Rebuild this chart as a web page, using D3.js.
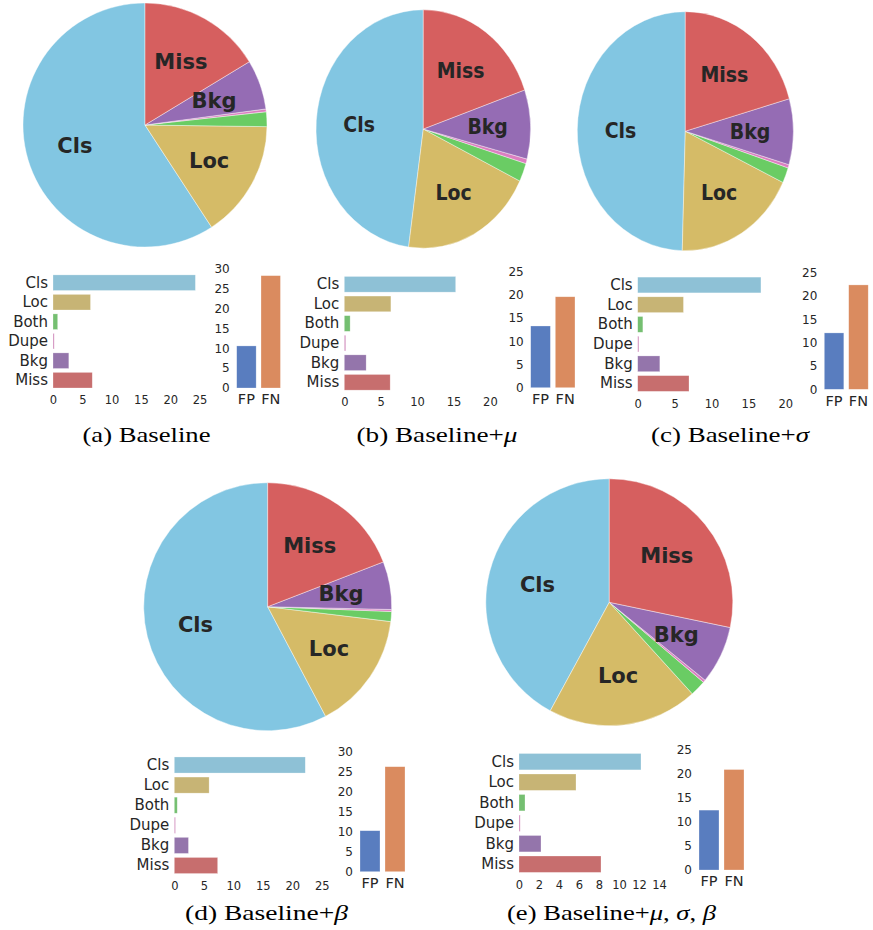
<!DOCTYPE html>
<html lang="en">
<head>
<meta charset="UTF-8">
<title>Error breakdown</title>
<script src="https://d3js.org/d3.v7.min.js"></script>
<style>
    body { margin: 0; background: #fff; }
    .tick text { fill: #262626; font-family: "DejaVu Sans", sans-serif; }
    .pielabel { fill: #262626; font-family: "DejaVu Sans", sans-serif; font-weight: bold; }
    .caption { font-family: "Liberation Serif", serif; fill: #000; }
</style>
</head>
<body>
<svg id="chart" width="873" height="930"></svg>
<script>
// error types, in the order the wedges and bars are drawn
var categories = ["Cls", "Loc", "Both", "Dupe", "Bkg", "Miss"];
var pieLabels  = ["Cls", "Loc", "", "", "Bkg", "Miss"];
var fpfnLabels = ["FP", "FN"];

// error breakdown per model
var errBaseline = [24.3, 6.4, 0.8, 0.15, 2.7, 6.7];
var errMu       = [15.3, 6.4, 0.8, 0.2, 3.0, 6.3];
var errSigma    = [16.7, 6.2, 0.7, 0.15, 3.0, 6.95];
var errBeta     = [22.2, 5.9, 0.5, 0.1, 2.4, 7.35];
var errAll      = [12.2, 5.7, 0.6, 0.1, 2.2, 8.2];

// FP / FN totals
var fpfnBaseline = [10.6, 28.3];
var fpfnMu       = [13.3, 19.6];
var fpfnSigma    = [12.1, 22.4];
var fpfnBeta     = [10.25, 26.25];
var fpfnAll      = [12.4, 20.8];

// tick labels
var xTicks25 = [0, 5, 10, 15, 20, 25];
var xTicks20 = [0, 5, 10, 15, 20];
var xTicks14 = [0, 2, 4, 6, 8, 10, 12, 14];
var yTicks30 = [0, 5, 10, 15, 20, 25, 30];
var yTicks25 = [0, 5, 10, 15, 20, 25];

// seaborn "muted" colours
var catColors  = ["#82c6e2", "#d5bb67", "#6acc64", "#dc7ec0", "#956cb4", "#d65f5f"];
var fpfnColors = ["#4878d0", "#ee854a"];

// barplot draws with saturation 0.75
function desat(c) {
    var h = d3.hsl(c);
    h.s = h.s * 0.75;
    return h.formatHex();
}

var svg = d3.select("#chart");

var panels = [
    { err: errBaseline, fpfn: fpfnBaseline, xt: xTicks25, yt: yTicks30,
      pie: {cx: 145, cy: 125, r: 122, sx: 1},
      hb: {x0: 53, k: 5.86, y0: 282.7, step: 19.5},
      fb: {x: 236.7, step: 24.3, y0: 388, k: 3.97},
      cap: {x: 146.5, y: 442, w: 128, parts: [["(a) Baseline", false]]} },
    { err: errMu, fpfn: fpfnMu, xt: xTicks20, yt: yTicks25,
      pie: {cx: 423.3, cy: 129, r: 119.2, sx: 0.9},
      hb: {x0: 344.3, k: 7.28, y0: 284.3, step: 19.6},
      fb: {x: 530.7, step: 24.6, y0: 387.7, k: 4.64},
      cap: {x: 437, y: 442, w: 161, parts: [["(b) Baseline+", false], ["\u03bc", true]]} },
    { err: errSigma, fpfn: fpfnSigma, xt: xTicks20, yt: yTicks25,
      pie: {cx: 685.3, cy: 131.2, r: 119.5, sx: 0.904},
      hb: {x0: 637.7, k: 7.38, y0: 285, step: 19.7},
      fb: {x: 824.3, step: 24.4, y0: 389.3, k: 4.66},
      cap: {x: 730, y: 442, w: 158, parts: [["(c) Baseline+", false], ["\u03c3", true]]} },
    { err: errBeta, fpfn: fpfnBeta, xt: xTicks25, yt: yTicks30,
      pie: {cx: 267.7, cy: 606.7, r: 124, sx: 1},
      hb: {x0: 174.3, k: 5.9, y0: 765, step: 20.1},
      fb: {x: 360, step: 25, y0: 871.7, k: 4.0},
      cap: {x: 266.5, y: 920, w: 163, parts: [["(d) Baseline+", false], ["\u03b2", true]]} },
    { err: errAll, fpfn: fpfnAll, xt: xTicks14, yt: yTicks25,
      pie: {cx: 609.3, cy: 602.3, r: 123.5, sx: 1},
      hb: {x0: 519, k: 10, y0: 761.7, step: 20.5},
      fb: {x: 699, step: 25, y0: 870, k: 4.83},
      cap: {x: 611.5, y: 920, w: 209, parts: [["(e) Baseline+", false], ["\u03bc", true], [", ", false],
                                              ["\u03c3", true], [", ", false], ["\u03b2", true]]} }
];

panels.forEach(function(p) {
    // ---- pie ----
    var pie = d3.pie().sort(null).startAngle(0).endAngle(-2 * Math.PI);
    var arcs = pie(p.err);
    var arc = d3.arc().innerRadius(0).outerRadius(p.pie.r);
    var labelArc = d3.arc().innerRadius(p.pie.r * 0.6).outerRadius(p.pie.r * 0.6);

    var g = svg.append("g")
        .attr("transform", "translate(" + p.pie.cx + "," + p.pie.cy + ") scale(" + p.pie.sx + ",1)");
    g.selectAll("path")
        .data(arcs)
        .enter().append("path")
        .attr("d", arc)
        .attr("fill", function(d, i) { return catColors[i]; })
        .attr("stroke", "#fff")
        .attr("stroke-opacity", 0.7)
        .attr("stroke-width", 0.6);
    g.selectAll("text")
        .data(arcs)
        .enter().append("text")
        .attr("class", "pielabel")
        .attr("transform", function(d) { return "translate(" + labelArc.centroid(d) + ")"; })
        .attr("text-anchor", "middle")
        .attr("dy", "0.36em")
        .style("font-size", "21px")
        .text(function(d, i) { return pieLabels[i]; });

    // ---- horizontal error bars ----
    var hb = p.hb;
    var xMax = p.xt[p.xt.length - 1];
    var x = d3.scaleLinear().domain([0, xMax]).range([hb.x0, hb.x0 + hb.k * xMax]);
    var y = d3.scaleBand().domain(categories)
        .range([hb.y0 - hb.step / 2, hb.y0 + 5.5 * hb.step])
        .paddingInner(0.2).paddingOuter(0.1);

    svg.append("g").selectAll("rect")
        .data(p.err)
        .enter().append("rect")
        .attr("x", x(0))
        .attr("y", function(d, i) { return y(categories[i]); })
        .attr("width", function(d) { return Math.max(x(d) - x(0), 1.2); })
        .attr("height", y.bandwidth())
        .attr("fill", function(d, i) { return desat(catColors[i]); })
        .attr("stroke", "#fff")
        .attr("stroke-opacity", 0.45)
        .attr("stroke-width", 0.6);

    var yAx = svg.append("g")
        .attr("transform", "translate(" + hb.x0 + ",0)")
        .call(d3.axisLeft(y).tickSize(0).tickPadding(5));
    yAx.select(".domain").remove();
    yAx.selectAll("text").style("font-size", "15px");

    var xAx = svg.append("g")
        .attr("transform", "translate(0," + (hb.y0 + 5.4 * hb.step) + ")")
        .call(d3.axisBottom(x).tickValues(p.xt).tickSize(0).tickPadding(8));
    xAx.select(".domain").remove();
    xAx.selectAll("text").style("font-size", "11.5px");

    // ---- FP / FN bars ----
    var fb = p.fb;
    var yMax = p.yt[p.yt.length - 1];
    var fx = d3.scaleBand().domain(fpfnLabels)
        .range([fb.x - 0.1 * fb.step, fb.x + 1.9 * fb.step])
        .paddingInner(0.2).paddingOuter(0.1);
    var fy = d3.scaleLinear().domain([0, yMax]).range([fb.y0, fb.y0 - fb.k * yMax]);

    svg.append("g").selectAll("rect")
        .data(p.fpfn)
        .enter().append("rect")
        .attr("x", function(d, i) { return fx(fpfnLabels[i]); })
        .attr("y", function(d) { return fy(d); })
        .attr("width", fx.bandwidth())
        .attr("height", function(d) { return fy(0) - fy(d); })
        .attr("fill", function(d, i) { return desat(fpfnColors[i]); })
        .attr("stroke", "#fff")
        .attr("stroke-opacity", 0.45)
        .attr("stroke-width", 0.6);

    var fyAx = svg.append("g")
        .attr("transform", "translate(" + fb.x + ",0)")
        .call(d3.axisLeft(fy).tickValues(p.yt).tickSize(0).tickPadding(7));
    fyAx.select(".domain").remove();
    fyAx.selectAll("text").style("font-size", "12px");

    var fxAx = svg.append("g")
        .attr("transform", "translate(0," + fb.y0 + ")")
        .call(d3.axisBottom(fx).tickSize(0).tickPadding(6));
    fxAx.select(".domain").remove();
    fxAx.selectAll("text").style("font-size", "14.5px");

    // ---- caption ----
    var cap = svg.append("text")
        .attr("class", "caption")
        .attr("x", p.cap.x)
        .attr("y", p.cap.y)
        .attr("text-anchor", "middle")
        .attr("textLength", p.cap.w)
        .attr("lengthAdjust", "spacingAndGlyphs")
        .style("font-size", "22px");
    p.cap.parts.forEach(function(pt) {
        cap.append("tspan")
            .style("font-style", pt[1] ? "italic" : "normal")
            .text(pt[0]);
    });
});
</script>
</body>
</html>
